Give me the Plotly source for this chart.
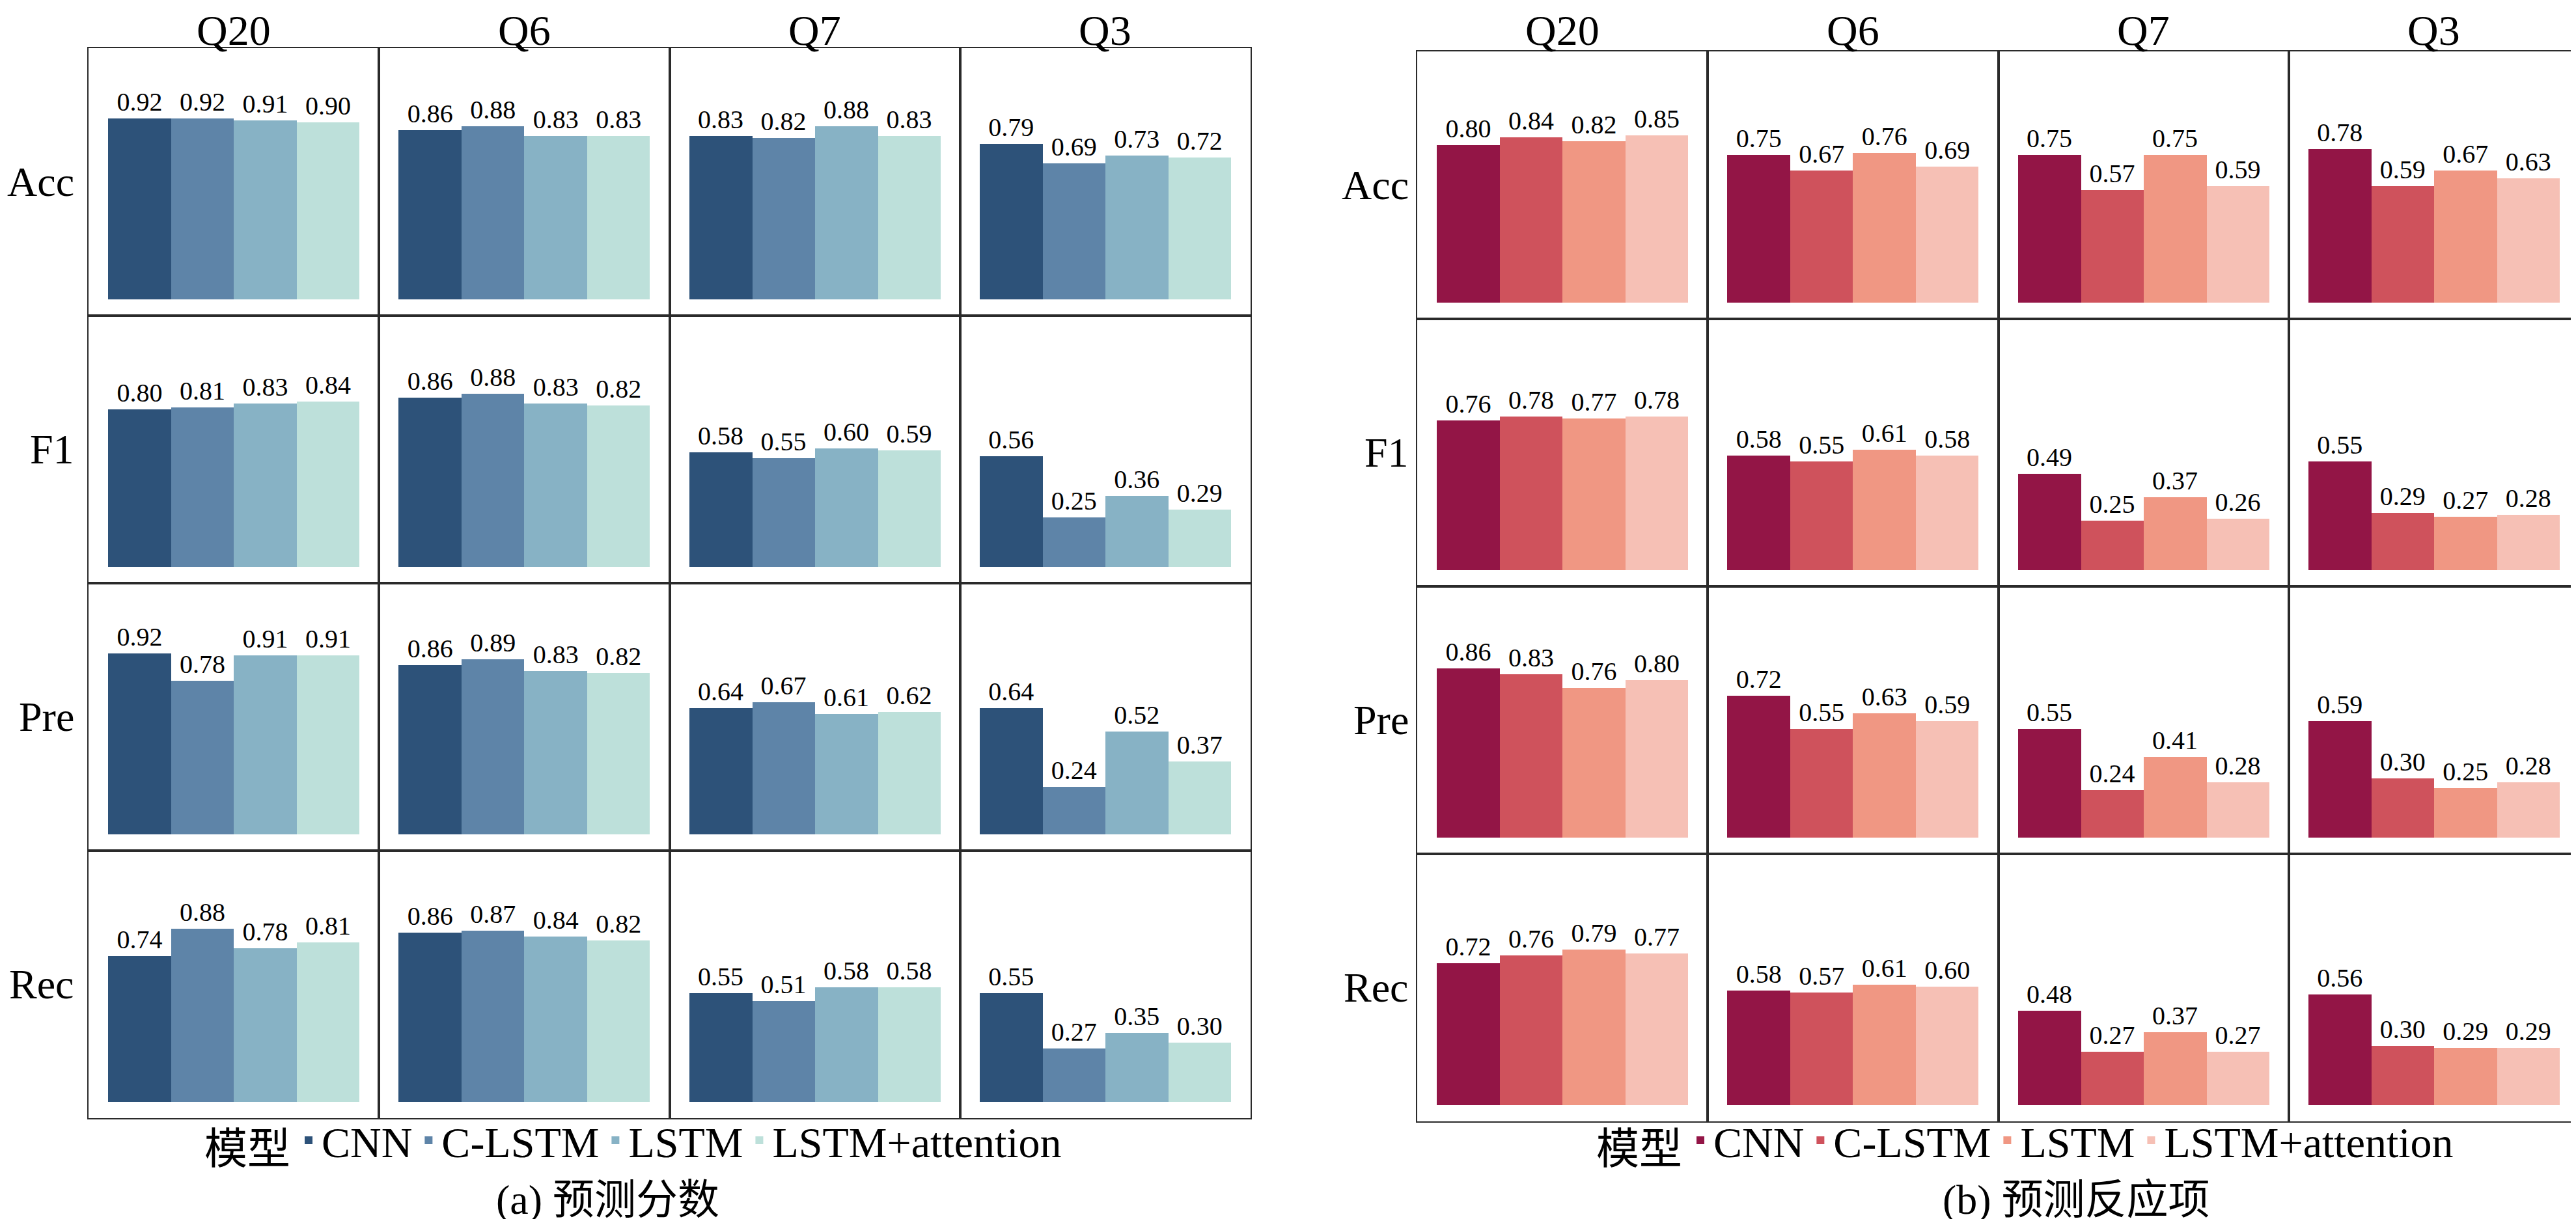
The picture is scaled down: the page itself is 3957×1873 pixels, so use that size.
import plotly.graph_objects as go

# ---------------- data ----------------
models = ["CNN", "C-LSTM", "LSTM", "LSTM+attention"]
questions = ["Q20", "Q6", "Q7", "Q3"]
metrics = ["Acc", "F1", "Pre", "Rec"]

# (a) 预测分数 : per metric, per question -> values for the 4 models
score_acc = [[0.92, 0.92, 0.91, 0.90], [0.86, 0.88, 0.83, 0.83], [0.83, 0.82, 0.88, 0.83], [0.79, 0.69, 0.73, 0.72]]
score_f1 = [[0.80, 0.81, 0.83, 0.84], [0.86, 0.88, 0.83, 0.82], [0.58, 0.55, 0.60, 0.59], [0.56, 0.25, 0.36, 0.29]]
score_pre = [[0.92, 0.78, 0.91, 0.91], [0.86, 0.89, 0.83, 0.82], [0.64, 0.67, 0.61, 0.62], [0.64, 0.24, 0.52, 0.37]]
score_rec = [[0.74, 0.88, 0.78, 0.81], [0.86, 0.87, 0.84, 0.82], [0.55, 0.51, 0.58, 0.58], [0.55, 0.27, 0.35, 0.30]]

# (b) 预测反应项
item_acc = [[0.80, 0.84, 0.82, 0.85], [0.75, 0.67, 0.76, 0.69], [0.75, 0.57, 0.75, 0.59], [0.78, 0.59, 0.67, 0.63]]
item_f1 = [[0.76, 0.78, 0.77, 0.78], [0.58, 0.55, 0.61, 0.58], [0.49, 0.25, 0.37, 0.26], [0.55, 0.29, 0.27, 0.28]]
item_pre = [[0.86, 0.83, 0.76, 0.80], [0.72, 0.55, 0.63, 0.59], [0.55, 0.24, 0.41, 0.28], [0.59, 0.30, 0.25, 0.28]]
item_rec = [[0.72, 0.76, 0.79, 0.77], [0.58, 0.57, 0.61, 0.60], [0.48, 0.27, 0.37, 0.27], [0.56, 0.30, 0.29, 0.29]]

captions = ["(a) 预测分数", "(b) 预测反应项"]
legend_title = "模型"

colors_a = ["#2D5279", "#5E84A8", "#87B2C5", "#BDE0DA"]
colors_b = ["#931546", "#CF525C", "#F09783", "#F6C0B5"]

# ---------------- layout geometry (pixels) ----------------
W, H = 3957, 1873
PANEL_LEFT = [128, 2169]
PANEL_TOP = [66, 71]
CELL_W = 446.25
CELL_H = 411.0
BAR_PAD_PX = 29.9       # white gap between cell border and outer bars
BASE_PX = 25.5          # gap between bar baseline and cell bottom
PX_PER_UNIT = 302.0     # vertical pixels per 1.0 of value
ROW_LABEL_RIGHT = [108, 2158]
LEGEND_CX = [966, 3104]
LEGEND_CY = [1744, 1744]
CAPTION_CX = [925, 3181]

SERIF = "Liberation Serif, Noto Sans CJK SC, serif"

panels = [
    ([score_acc, score_f1, score_pre, score_rec], colors_a, "legend"),
    ([item_acc, item_f1, item_pre, item_rec], colors_b, "legend2"),
]

fig = go.Figure()
layout = {}
annotations = []

bar_unit_px = (CELL_W - 2 * BAR_PAD_PX) / len(models)
xr = [-0.5 - BAR_PAD_PX / bar_unit_px, len(models) - 0.5 + BAR_PAD_PX / bar_unit_px]
yr = [-BASE_PX / PX_PER_UNIT, (CELL_H - BASE_PX) / PX_PER_UNIT]

ax_i = 0
for p, (mdata, cols, legname) in enumerate(panels):
    for r, metric in enumerate(metrics):
        for c, q in enumerate(questions):
            ax_i += 1
            x0 = PANEL_LEFT[p] + c * CELL_W
            x1 = x0 + CELL_W
            y0 = PANEL_TOP[p] + r * CELL_H
            y1 = y0 + CELL_H
            xa = "x" if ax_i == 1 else f"x{ax_i}"
            ya = "y" if ax_i == 1 else f"y{ax_i}"
            xkey = "xaxis" if ax_i == 1 else f"xaxis{ax_i}"
            ykey = "yaxis" if ax_i == 1 else f"yaxis{ax_i}"
            common = dict(showticklabels=False, ticks="", showgrid=False, zeroline=False,
                          showline=True, mirror=True, linecolor="#2a2a2a", linewidth=2,
                          fixedrange=True)
            layout[xkey] = dict(domain=[x0 / W, x1 / W], range=xr, anchor=ya, **common)
            layout[ykey] = dict(domain=[1 - y1 / H, 1 - y0 / H], range=yr, anchor=xa, **common)
            vals = mdata[r][c]
            for m, model in enumerate(models):
                fig.add_trace(go.Bar(
                    x=[m], y=[vals[m]], xaxis=xa, yaxis=ya,
                    name=model, legendgroup=f"{legname}-{model}", legend=legname,
                    showlegend=(r == 0 and c == 0),
                    marker=dict(color=cols[m], line=dict(width=0)),
                    width=1.0,
                    text=[f"{vals[m]:.2f}"], textposition="outside", textangle=0,
                    constraintext="none", cliponaxis=False,
                    textfont=dict(family=SERIF, size=40, color="black"),
                    hoverinfo="skip",
                ))
            # column titles
            if r == 0:
                annotations.append(dict(
                    text=q, xref="paper", yref="paper",
                    x=(x0 + x1) / 2 / W, y=1.0,
                    xanchor="center", yanchor="top", showarrow=False,
                    font=dict(family=SERIF, size=66, color="black")))
        # row labels
        yc = PANEL_TOP[p] + (r + 0.5) * CELL_H
        annotations.append(dict(
            text=metric, xref="paper", yref="paper",
            x=ROW_LABEL_RIGHT[p] / W, y=1 - yc / H,
            xanchor="right", yanchor="middle", showarrow=False,
            font=dict(family=SERIF, size=64, color="black")))
    # captions
    annotations.append(dict(
        text=captions[p], xref="paper", yref="paper", x=CAPTION_CX[p] / W, y=0.0,
        xanchor="center", yanchor="bottom", showarrow=False,
        font=dict(family=SERIF, size=64, color="black")))

legend_common = dict(orientation="h", xanchor="center", yanchor="middle",
                     font=dict(family=SERIF, size=66, color="black"),
                     title=dict(text=legend_title, side="left",
                                font=dict(family=SERIF, size=66, color="black")),
                     bgcolor="rgba(0,0,0,0)", itemwidth=30, tracegroupgap=0,
                     itemclick=False, itemdoubleclick=False)
layout["legend"] = dict(x=LEGEND_CX[0] / W, y=1 - LEGEND_CY[0] / H, **legend_common)
layout["legend2"] = dict(x=LEGEND_CX[1] / W, y=1 - LEGEND_CY[1] / H, **legend_common)

fig.update_layout(
    width=W, height=H, margin=dict(l=0, r=0, t=0, b=0),
    paper_bgcolor="white", plot_bgcolor="white",
    barmode="overlay", bargap=0,
    font=dict(family=SERIF, color="black"),
    annotations=annotations,
    **layout,
)

fig.write_html("out.html", config={"displayModeBar": False})
